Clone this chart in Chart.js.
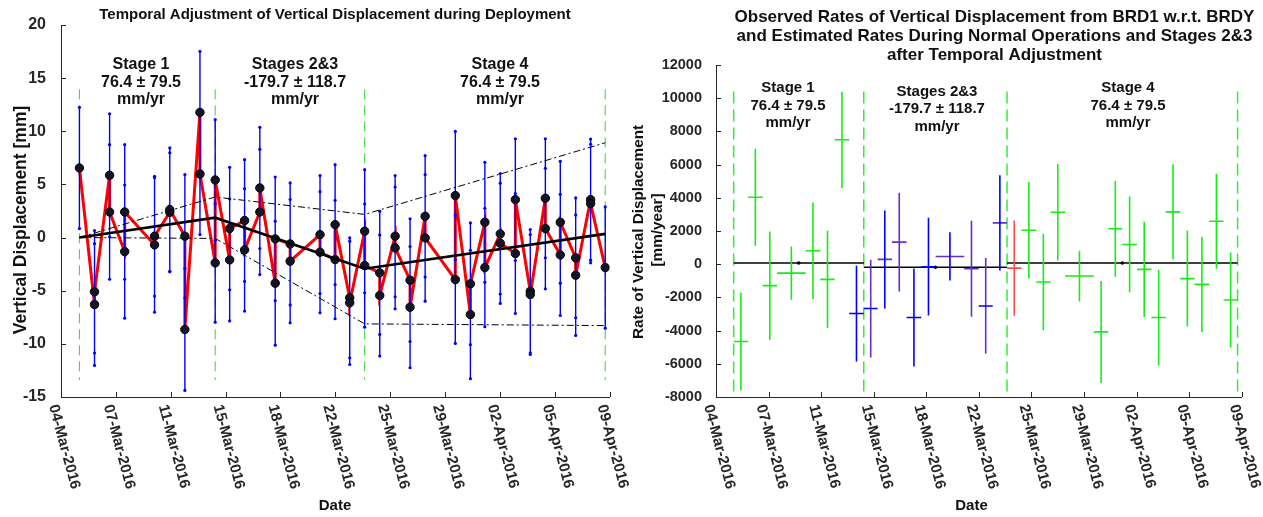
<!DOCTYPE html>
<html>
<head>
<meta charset="utf-8">
<script src="https://cdn.jsdelivr.net/npm/chart.js@4.4.0/dist/chart.umd.min.js"></script>
<style>
  html, body { margin: 0; padding: 0; background: #ffffff; }
  #wrap { position: relative; width: 1263px; height: 517px; overflow: hidden; }
  #dispCanvas { position: absolute; left: 0; top: 0; }
  #rateCanvas { position: absolute; left: 630px; top: 0; }
</style>
</head>
<body>
<div id="wrap">
  <canvas id="dispCanvas" width="630" height="517"></canvas>
  <canvas id="rateCanvas" width="633" height="517"></canvas>
</div>
<script>
// ---------- axis ticks ----------
const dateTickLabels = ['04-Mar-2016', '07-Mar-2016', '11-Mar-2016', '15-Mar-2016', '18-Mar-2016', '22-Mar-2016',
                        '25-Mar-2016', '29-Mar-2016', '02-Apr-2016', '05-Apr-2016', '09-Apr-2016'];
const dateTickDays = [0, 3.6, 7.2, 10.8, 14.4, 18, 21.6, 25.2, 28.8, 32.4, 36];
const dispTickValues = [-15, -10, -5, 0, 5, 10, 15, 20];
const rateTickValues = [-8000, -6000, -4000, -2000, 0, 2000, 4000, 6000, 8000, 10000, 12000];

// ---------- observation epochs (days after 04-Mar-2016 axis origin) ----------
const epochDays = [1.21, 2.20, 3.19, 4.18, 6.14, 7.14, 8.13, 9.12, 10.12, 11.07, 12.05, 13.05, 14.06, 15.04,
                   17.00, 17.99, 18.95, 19.93, 20.92, 21.93, 22.91, 23.90, 25.88, 26.87, 27.82, 28.83, 29.82,
                   30.80, 31.79, 32.77, 33.78, 34.76, 35.72];

// displacement [mm] closing the interval before each epoch, and opening the interval after it
const dispIn  = [null, -6.30, 5.86, -1.32, -0.69, 2.38, 0.13, 11.78, -2.38, -2.10, 1.60, 2.41, -4.29, -0.60,
                 0.28, -2.07, -5.67, 0.60, -3.32, 0.13, -4.01, 2.00, -3.95, -7.24, 1.44, 0.35, -1.50, -5.05,
                 3.70, -1.63, -1.91, 3.57, -2.82];
const dispOut = [6.55, -5.10, 2.41, 2.41, 0.13, 2.63, -8.65, 5.98, 5.42, 0.85, -1.16, 4.67, -0.12, -2.22,
                 -1.38, 1.22, -6.14, -2.63, -5.45, -0.97, -6.55, -0.03, 3.95, -4.35, -2.82, -0.54, 3.57, -5.36,
                 0.85, 1.44, -3.54, 3.20, null];
// one-sigma uncertainty [mm] of each of those values
const errIn  = [null, 5.73, 5.79, 6.26, 6.33, 5.60, 5.79, 5.73, 5.58, 5.74, 5.73, 5.89, 5.83, 5.74,
                5.55, 5.57, 5.64, 5.79, 5.79, 5.70, 5.77, 5.71, 6.01, 6.04, 5.64, 5.67, 5.64, 5.80,
                5.60, 5.70, 5.64, 5.70, 5.70];
const errOut = [5.70, 5.76, 6.33, 6.33, 5.63, 5.80, 5.73, 5.70, 5.67, 5.76, 5.76, 5.70, 5.82, 5.80,
                5.70, 5.64, 5.80, 5.80, 5.70, 5.73, 5.70, 5.95, 6.04, 5.73, 5.57, 5.66, 5.73, 5.64,
                5.67, 5.73, 5.67, 5.58, null];

// ---------- deployment stages ----------
const stageNames = ['Stage 1', 'Stages 2&3', 'Stage 4'];
const stageRates = [76.4, -179.7, 76.4];      // mm/yr
const stageRateErr = [79.5, 118.7, 79.5];     // mm/yr
const stageBoundDays = [1.21, 10.12, 19.93, 35.72];
// piecewise trend at the stage boundaries [mm]
const trendFit   = [0, 1.87, -2.93, 0.35];
const trendUpper = [0, 3.82, 2.18, 8.92];
const trendLower = [0, -0.08, -8.12, -8.28];

// ---------- rates between consecutive epochs [mm/year] ----------
const intervalRates = [-4655, 4030, -1291, -535, 811, -913, 7496, -2973,
                       -2673, 288, 1327, -3213, -150, 468, -270, -2516, 2492,
                       -234, 2048, -1075, 3129, -715, -4078, 2132, 1189, -312, -3213, 3153, -871, -1213, 2589, -2156];
const intervalRateErr = [2955, 2925, 3255, 1603, 2904, 2934, 2900, 2883,
                         2943, 2952, 2973, 2952, 2943, 1450, 2892, 2882, 2873,
                         2874, 2904, 2904, 2904, 1531, 3072, 2883, 2883, 2864, 2883, 2874, 2883, 2865, 2862, 2865];

// ---------- styling ----------
const FONT = '"Liberation Sans", Arial, Helvetica, sans-serif';
const INK = '#262626';
const COLORS = { g: '#14ee14', b: '#0000ff', p: '#6430c8', r: '#ff4a4a' };
// colour key of the vertical (rate) and horizontal (time span) stroke of every interval
const vKey = ['g','g','g','g','g','g','g','b', 'p','b','p','b','b','b','p','p','b',
              'r','g','g','g','g','g','g','g','g','g','g','g','g','g','g'];
const hKey = ['g','g','g','g','g','g','g','b', 'b','p','p','b','b','p','p','b','p',
              'r','g','g','g','g','g','g','g','g','g','g','g','g','g','g'];

// ---------- helpers building chart data from the arrays ----------
function gapJoin(segments) {
  const out = [];
  segments.forEach(seg => { seg.forEach(p => out.push(p)); out.push({ x: seg[0].x, y: null }); });
  return out;
}
function lineSet(data, color, width, extra) {
  return Object.assign({ data, showLine: true, borderColor: color, backgroundColor: color,
                         borderWidth: width, pointRadius: 0, spanGaps: false, tension: 0 }, extra || {});
}

// displacement panel data
const redPath = [];
const dotPts = [];
const barSegs = [];
const barEnds = [];
epochDays.forEach((d, i) => {
  [[dispIn[i], errIn[i]], [dispOut[i], errOut[i]]].forEach(([v, e]) => {
    if (v === null) return;
    redPath.push({ x: d, y: v });
    dotPts.push({ x: d, y: v });
    barSegs.push([{ x: d, y: v - e }, { x: d, y: v + e }]);
    barEnds.push({ x: d, y: v - e }, { x: d, y: v + e });
  });
});
const stageLines = gapJoin(stageBoundDays.map(d => [{ x: d, y: 13.95 }, { x: d, y: -13.4 }]));
const knots = vals => stageBoundDays.map((d, i) => ({ x: d, y: vals[i] }));

// rate panel data
const rateV = { g: [], b: [], p: [], r: [] };
const rateH = { g: [], b: [], p: [], r: [] };
intervalRates.forEach((r, i) => {
  const d0 = epochDays[i], d1 = epochDays[i + 1], dm = (d0 + d1) / 2, e = intervalRateErr[i];
  rateV[vKey[i]].push([{ x: dm, y: r - e }, { x: dm, y: r + e }]);
  rateH[hKey[i]].push([{ x: d0, y: r }, { x: d1, y: r }]);
});
const stageRateSegs = gapJoin(stageRates.map((r, i) => [{ x: stageBoundDays[i], y: r }, { x: stageBoundDays[i + 1], y: r }]));
const stageRateMid = stageRates.map((r, i) => ({ x: (stageBoundDays[i] + stageBoundDays[i + 1]) / 2, y: r }));
const rateStageLines = gapJoin(stageBoundDays.map(d => [{ x: d, y: 10400 }, { x: d, y: -7700 }]));

const stageText = i => [stageNames[i], stageRates[i].toFixed(1) + ' \u00b1 ' + stageRateErr[i].toFixed(1), 'mm/yr'];

// ---------- axis decoration: inward ticks, slanted date labels, captions ----------
const decor = {
  id: 'decor',
  afterDraw(chart, args, o) {
    const { ctx, chartArea: a } = chart;
    const xs = chart.scales.x, ys = chart.scales.y;
    ctx.save();
    ctx.strokeStyle = INK;
    ctx.lineWidth = 1;
    ctx.beginPath();
    dateTickDays.forEach(v => {
      const px = Math.round(xs.getPixelForValue(v)) + 0.5;
      ctx.moveTo(px, a.bottom); ctx.lineTo(px, a.bottom - o.tickLen);
    });
    o.yTicks.forEach(v => {
      const py = Math.round(ys.getPixelForValue(v)) + 0.5;
      ctx.moveTo(a.left, py); ctx.lineTo(a.left + o.tickLen, py);
    });
    ctx.stroke();

    ctx.fillStyle = INK;
    ctx.font = 'bold ' + o.xFontSize + 'px ' + FONT;
    ctx.textAlign = 'left';
    ctx.textBaseline = 'middle';
    dateTickDays.forEach((v, i) => {
      ctx.save();
      ctx.translate(xs.getPixelForValue(v) + o.xLabelDx, a.bottom + o.xLabelDy);
      ctx.rotate(o.xAngle * Math.PI / 180);
      ctx.fillText(dateTickLabels[i], 0, 0);
      ctx.restore();
    });

    o.texts.forEach(t => {
      ctx.save();
      ctx.font = 'bold ' + t.size + 'px ' + FONT;
      ctx.fillStyle = t.color || '#111111';
      ctx.textAlign = 'center';
      ctx.textBaseline = 'middle';
      ctx.translate(t.x, t.y);
      if (t.rot) ctx.rotate(t.rot * Math.PI / 180);
      ctx.fillText(t.text, 0, 0);
      ctx.restore();
    });
    ctx.restore();
  }
};

function stageCaptions(xs, ys, size) {
  const out = [];
  xs.forEach((x, i) => stageText(i).forEach((s, k) => out.push({ text: s, x, y: ys[i] + k * 17.5, size })));
  return out;
}

function baseOptions(o) {
  return {
    responsive: false, animation: false, devicePixelRatio: 1,
    layout: { padding: o.padding },
    plugins: { legend: { display: false }, tooltip: { enabled: false }, decor: o.decor },
    scales: {
      x: { type: 'linear', min: 0, max: 36, ticks: { display: false }, grid: { display: false },
           border: { color: INK, width: 1 }, afterFit: s => { s.height = 0; } },
      y: { type: 'linear', min: o.yMin, max: o.yMax,
           afterBuildTicks: s => { s.ticks = o.yTicks.map(v => ({ value: v })); },
           ticks: { font: { family: FONT, weight: 'bold', size: o.yFontSize }, color: INK, padding: o.yPad,
                    callback: v => String(v) },
           grid: { display: false }, border: { color: INK, width: 1 },
           afterFit: s => { s.width = o.yWidth; } }
    }
  };
}

// ---------- left panel: displacement time series ----------
new Chart(document.getElementById('dispCanvas'), {
  type: 'scatter',
  data: {
    datasets: [
      lineSet(stageLines, '#2ade2a', 1, { borderDash: [10, 6], order: 9 }),
      lineSet(redPath, '#ff0000', 3, { order: 7 }),
      lineSet(gapJoin(barSegs), '#0000ff', 1.4, { order: 6 }),
      { data: barEnds, pointRadius: 1.6, pointBorderWidth: 0, pointBackgroundColor: '#0000ff', showLine: false, order: 5 },
      { data: dotPts, pointRadius: 4.2, pointBorderWidth: 1, pointBorderColor: '#000000',
        pointBackgroundColor: '#141428', showLine: false, order: 4 },
      lineSet(knots(trendUpper), '#000000', 1, { borderDash: [7, 3, 2, 3], order: 3 }),
      lineSet(knots(trendLower), '#000000', 1, { borderDash: [7, 3, 2, 3], order: 3 }),
      lineSet(knots(trendFit), '#000000', 2.6, { order: 2 })
    ]
  },
  options: baseOptions({
    padding: { left: 0, right: 20.5, top: 25, bottom: 120 },
    yMin: -15, yMax: 20, yTicks: dispTickValues, yFontSize: 16, yPad: 7, yWidth: 61,
    decor: {
      tickLen: 5, yTicks: dispTickValues, xFontSize: 15, xAngle: 75, xLabelDx: -8, xLabelDy: 8,
      texts: [
        { text: 'Temporal Adjustment of Vertical Displacement during Deployment', x: 335, y: 15, size: 15 },
        { text: 'Vertical Displacement [mm]', x: 21.5, y: 220, size: 17.5, rot: -90 },
        { text: 'Date', x: 335, y: 506, size: 15 }
      ].concat(stageCaptions([141, 295, 500], [65, 65, 65], 16))
    }
  }),
  plugins: [decor]
});

// ---------- right panel: interval rates ----------
const rateSets = [
  lineSet(rateStageLines, '#33ee33', 1.5, { borderDash: [12, 6], order: 9 }),
  lineSet(stageRateSegs, '#000000', 1.5, { order: 8 }),
  { data: stageRateMid, pointRadius: 1.8, pointBorderWidth: 0, pointBackgroundColor: '#000000', showLine: false, order: 7 }
];
['g', 'b', 'p', 'r'].forEach(k => {
  if (rateV[k].length) rateSets.push(lineSet(gapJoin(rateV[k]), COLORS[k], 1.6, { order: 5 }));
  if (rateH[k].length) rateSets.push(lineSet(gapJoin(rateH[k]), COLORS[k], 1.6, { order: 5 }));
});

new Chart(document.getElementById('rateCanvas'), {
  type: 'scatter',
  data: { datasets: rateSets },
  options: baseOptions({
    padding: { left: 0, right: 21.3, top: 65, bottom: 120 },
    yMin: -8000, yMax: 12000, yTicks: rateTickValues, yFontSize: 14.5, yPad: 6, yWidth: 86,
    decor: {
      tickLen: 5, yTicks: rateTickValues, xFontSize: 15, xAngle: 75, xLabelDx: -8, xLabelDy: 8,
      texts: [
        { text: 'Observed Rates of Vertical Displacement from BRD1 w.r.t. BRDY', x: 364.5, y: 17, size: 17 },
        { text: 'and Estimated Rates During Normal Operations and Stages 2&3', x: 364.5, y: 36, size: 17 },
        { text: 'after Temporal Adjustment', x: 364.5, y: 55, size: 17 },
        { text: 'Rate of Vertical Displacement', x: 9, y: 232, size: 15.3, rot: -90 },
        { text: '[mm/year]', x: 28, y: 230, size: 15.3, rot: -90 },
        { text: 'Date', x: 341.5, y: 506, size: 15 }
      ].concat(stageCaptions([158, 307, 498], [88, 91.5, 88], 15))
    }
  }),
  plugins: [decor]
});
</script>
</body>
</html>
